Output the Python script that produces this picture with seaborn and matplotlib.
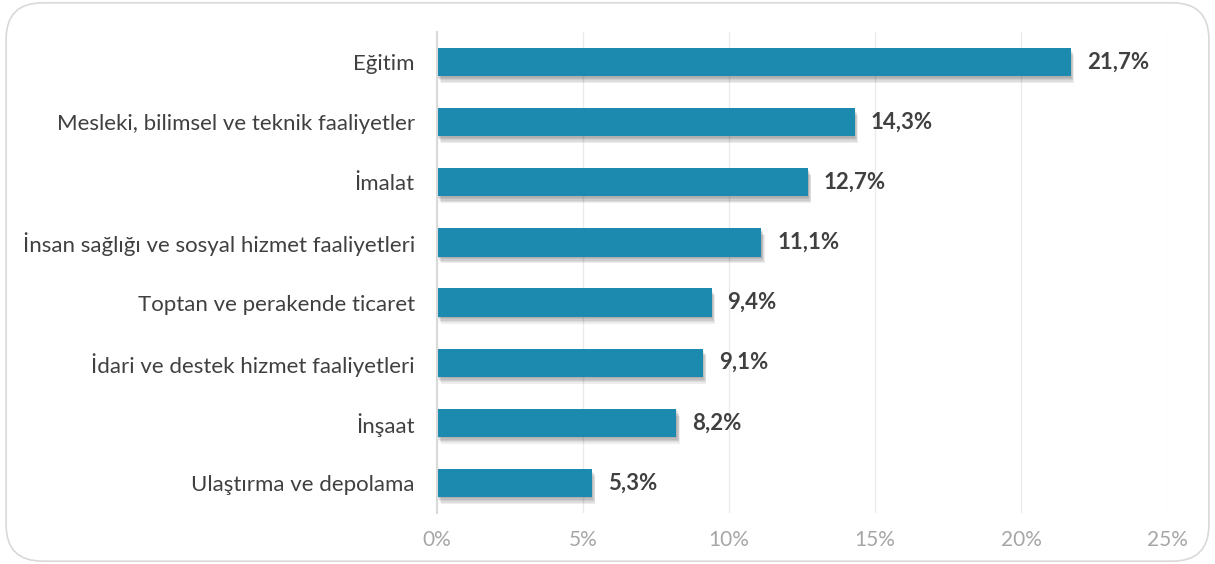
import matplotlib
matplotlib.use("Agg")
import matplotlib.pyplot as plt
import matplotlib.patheffects as pe
from matplotlib.patches import FancyBboxPatch
import pandas as pd
import seaborn as sns

sectors = ["Eğitim", "Mesleki, bilimsel ve teknik faaliyetler", "İmalat",
           "İnsan sağlığı ve sosyal hizmet faaliyetleri", "Toptan ve perakende ticaret",
           "İdari ve destek hizmet faaliyetleri", "İnşaat", "Ulaştırma ve depolama"]
shares = [21.7, 14.3, 12.7, 11.1, 9.4, 9.1, 8.2, 5.3]
xticks = [0, 5, 10, 15, 20, 25]

sns.set_style("white")
plt.rcParams["font.family"] = ["Lato", "DejaVu Sans"]

df = pd.DataFrame({"sector": sectors, "share": shares})

fig = plt.figure(figsize=(12.15, 5.64), dpi=100)
ax = fig.add_axes([0.3597, 0.0904, 0.6008, 0.853])

sns.barplot(data=df, y="sector", x="share", color="#1B8AAE", saturation=1,
            width=0.47, ax=ax, orient="h", linewidth=0)

# soft drop shadow, built from a few faint offset copies
shadow = [pe.SimplePatchShadow(offset=(dx, dy), shadow_rgbFace="black", alpha=0.07)
          for dx, dy in [(0.5, -1), (1, -2), (1.5, -3), (2, -4), (2.5, -5)]]
for bar in ax.patches:
    bar.set_path_effects(shadow + [pe.Normal()])

for i, v in enumerate(shares):
    ax.text(v + 0.55, i, f"{v:.1f}%".replace(".", ","), va="center", ha="left",
            fontsize=16, fontweight="bold", color="#404040")

ax.set_xlim(0, 25)
ax.set_ylim(7.5, -0.5)
ax.set_xticks(xticks)
ax.set_xticklabels([f"{t}%" for t in xticks], color="#A6A6A6", fontsize=15)
ax.tick_params(axis="y", labelsize=16, labelcolor="#404040", length=0, pad=16)
ax.tick_params(axis="x", length=0, pad=12)
ax.set_xlabel("")
ax.set_ylabel("")
ax.grid(axis="x", color="#EBEBEB", linewidth=1)
ax.set_axisbelow(True)
for s in ["top", "right", "bottom"]:
    ax.spines[s].set_visible(False)
ax.spines["left"].set_color("#D9D9D9")
ax.spines["left"].set_linewidth(1.5)

frame = FancyBboxPatch((0.005, 0.005), 0.99, 0.99, boxstyle="round,pad=0,rounding_size=0.03",
                       transform=fig.transFigure, facecolor="none", edgecolor="#D9D9D9",
                       linewidth=1.2, mutation_aspect=12.15 / 5.64)
fig.patches.append(frame)

fig.savefig("out.png", dpi=100)
